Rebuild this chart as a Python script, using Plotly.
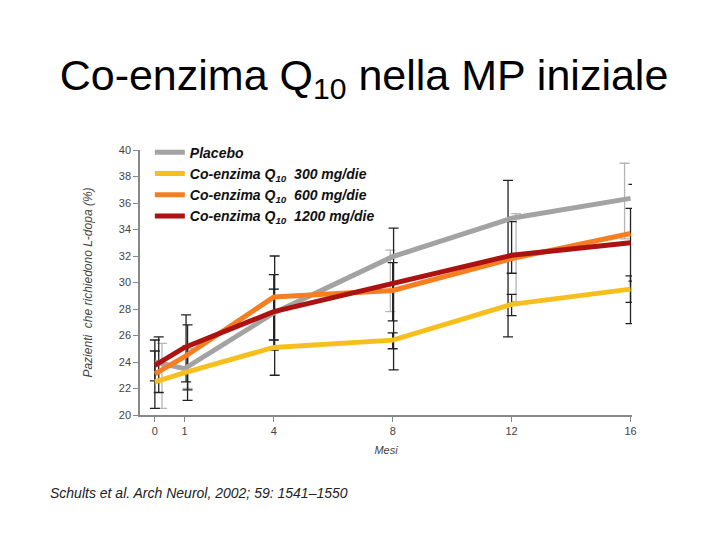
import plotly.graph_objects as go

# months of follow-up
months = [0, 1, 4, 8, 12, 16]

# % patients needing L-dopa
placebo = [24.0, 23.5, 27.7, 31.95, 34.85, 36.35]
q10_300 = [22.5, 23.2, 25.1, 25.65, 28.35, 29.5]
q10_600 = [23.1, 24.4, 28.9, 29.4, 31.8, 33.7]
q10_1200 = [23.75, 25.1, 27.8, 29.95, 32.05, 33.0]

# error bar ends (top / bottom) per series
placebo_top = [25.4, 25.0, 29.5, 32.45, 35.2, 39.0]
placebo_bot = [20.5, 22.0, 25.66, 27.8, 28.55, 33.3]
q10_300_top = [24.83, 25.2, 29.5, 26.2, 29.1, 30.5]
q10_300_bot = [22.57, 21.1, 25.66, 25.0, 27.5, 28.5]
q10_600_top = [25.66, 26.8, 30.6, 31.5, 34.6, 35.6]
q10_600_bot = [20.5, 21.9, 24.9, 27.1, 30.7, 26.9]
q10_1200_top = [25.9, 27.55, 32.0, 34.1, 37.7, 37.4]
q10_1200_bot = [21.7, 22.5, 23.0, 23.4, 25.9, 30.1]

yticks = list(range(20, 41, 2))

series = [
    ("Placebo", placebo, placebo_top, placebo_bot, "#a3a3a3", "#b5b5b5",
     [0.24, 0.1, 0.0, -0.08, 0.15, -0.2]),
    ("Co-enzima Q<sub>10</sub>  300 mg/die", q10_300, q10_300_top, q10_300_bot,
     "#f7bf1e", "#222222", [0.0, 0.1, 0.0, 0.0, 0.0, 0.0]),
    ("Co-enzima Q<sub>10</sub>  600 mg/die", q10_600, q10_600_top, q10_600_bot,
     "#f57e20", "#222222", [0.0, 0.1, 0.0, 0.0, 0.0, 0.0]),
    ("Co-enzima Q<sub>10</sub>  1200 mg/die", q10_1200, q10_1200_top, q10_1200_bot,
     "#ad1212", "#222222", [0.13, 0.05, 0.03, 0.03, -0.12, 0.1]),
]

fig = go.Figure()

# error bars first, so the lines sit on top
for name, vals, top, bot, col, ecol, offs in series:
    fig.add_trace(
        go.Scatter(
            x=[m + o for m, o in zip(months, offs)],
            y=vals,
            mode="markers",
            marker=dict(size=0.1, color="rgba(0,0,0,0)"),
            error_y=dict(
                type="data",
                symmetric=False,
                array=[t - v for t, v in zip(top, vals)],
                arrayminus=[v - b for v, b in zip(vals, bot)],
                color=ecol,
                thickness=1.3,
                width=5,
            ),
            showlegend=False,
            hoverinfo="skip",
        )
    )

for name, vals, top, bot, col, ecol, offs in series:
    fig.add_trace(
        go.Scatter(
            x=months,
            y=vals,
            mode="lines",
            name=f"<b><i>{name}</i></b>",
            line=dict(color=col, width=5),
        )
    )

# page body adds an 8px margin, so the figure is 712x532
fig.update_layout(
    width=712,
    height=532,
    paper_bgcolor="white",
    plot_bgcolor="white",
    margin=dict(l=132, r=88, t=142, b=125),
    font=dict(family="Liberation Sans, Arial, sans-serif", color="#333333"),
    title=dict(
        text="Co-enzima Q<sub>10</sub> nella MP iniziale",
        x=0.5,
        xanchor="center",
        y=0.875,
        yanchor="middle",
        font=dict(size=43, color="black"),
    ),
    legend=dict(
        x=0.02,
        y=1.05,
        xanchor="left",
        yanchor="top",
        bgcolor="rgba(0,0,0,0)",
        font=dict(size=14, color="#111111"),
        itemwidth=30,
        tracegroupgap=0,
    ),
    annotations=[
        dict(
            text="<i>Schults et al. Arch Neurol, 2002; 59: 1541–1550</i>",
            x=(40 - 132) / 492, y=(407 - 485) / 265,
            xref="paper", yref="paper",
            showarrow=False, xanchor="left", yanchor="middle",
            font=dict(size=14, color="#222222"),
        )
    ],
)

fig.update_xaxes(
    range=[-0.5, 16.05],
    tickvals=months,
    ticks="outside",
    ticklen=5,
    tickcolor="#888888",
    showline=True,
    linecolor="#888888",
    linewidth=1.5,
    showgrid=False,
    zeroline=False,
    tickfont=dict(size=11, color="#444444"),
    title=dict(text="<i>Mesi</i>", font=dict(size=11, color="#444444"), standoff=10),
)
fig.update_yaxes(
    range=[20, 40],
    tickvals=yticks,
    ticks="outside",
    ticklen=5,
    tickcolor="#888888",
    showline=True,
    linecolor="#888888",
    linewidth=1.5,
    showgrid=False,
    zeroline=False,
    tickfont=dict(size=11, color="#444444"),
    title=dict(text="<i>Pazienti  che richiedono L-dopa (%)</i>",
               font=dict(size=12, color="#444444"), standoff=24),
)

fig.write_html("out.html")
